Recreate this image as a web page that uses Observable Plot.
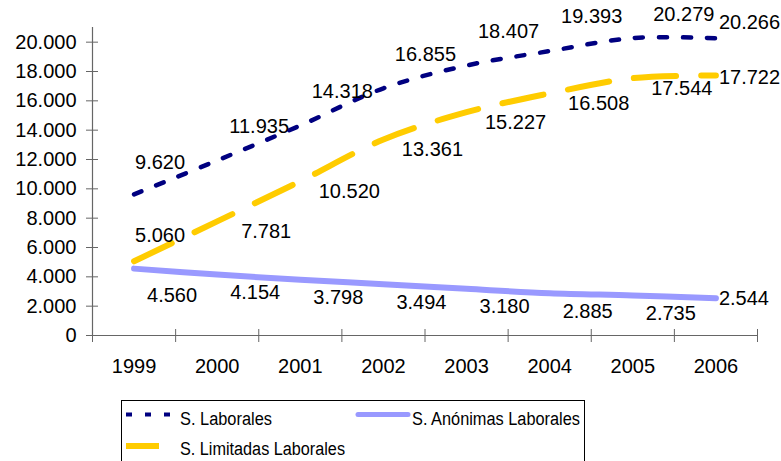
<!DOCTYPE html>
<html>
<head>
<meta charset="utf-8">
<script src="https://cdn.jsdelivr.net/npm/d3@7"></script>
<script src="https://cdn.jsdelivr.net/npm/@observablehq/plot@0.6"></script>
<style>
  html, body { margin: 0; padding: 0; background: white; }
  #chart { width: 781px; }
  #legend { display: block; }
</style>
</head>
<body>
<div id="chart"></div>
<script>
const years = [1999, 2000, 2001, 2002, 2003, 2004, 2005, 2006];
const laborales = [9620, 11935, 14318, 16855, 18407, 19393, 20279, 20266];
const limitadas = [5060, 7781, 10520, 13361, 15227, 16508, 17544, 17722];
const anonimas = [4560, 4154, 3798, 3494, 3180, 2885, 2735, 2544];
const seriesNames = ["S. Laborales", "S. Limitadas Laborales", "S. Anónimas Laborales"];
const yTicks = [0, 2000, 4000, 6000, 8000, 10000, 12000, 14000, 16000, 18000, 20000];

const locale = d3.formatLocale({decimal: ",", thousands: ".", grouping: [3], currency: ["", ""]});
const fmt = locale.format(",d");

const rows = (vals) => years.map((y, i) => ({year: y, value: vals[i], i}));
const dLab = rows(laborales), dLim = rows(limitadas), dAno = rows(anonimas);
const bounds = years.map(y => y - 0.5).concat([years[years.length - 1] + 0.5]);
const xDom = [bounds[0], bounds[bounds.length - 1]];
const lastI = years.length - 1;

const navy = "#000080", gold = "#FFCC00", lav = "#9999FF";
const font = "'Liberation Sans', Arial, sans-serif";

// Excel-like data-label placement: label nudged right of each point, above or below the line;
// the last point's label sits to the right of the point.
function labels(data, place) {
  return data.map(d => {
    const o = place(d.i);
    return Plot.text([d], {x: "year", y: "value", text: r => fmt(r.value), dx: o.dx, dy: o.dy,
      textAnchor: o.anchor || "middle", fill: "black"});
  });
}
const placeLab = i => i === 0 ? {dx: 26, dy: -32} : i === lastI ? {dx: 3, dy: -16, anchor: "start"}
  : i === lastI - 1 ? {dx: 51, dy: -23} : {dx: 42, dy: -34};
const placeLim = i => i === 0 ? {dx: 26, dy: -26} : i === lastI ? {dx: 3, dy: 2, anchor: "start"} : {dx: 49, dy: 10};
const placeAno = i => i === 0 ? {dx: 38, dy: 27} : i === lastI ? {dx: 3, dy: 0, anchor: "start"} : {dx: 38, dy: 18};

const plot = Plot.plot({
  width: 781,
  height: 395,
  marginLeft: 92,
  marginRight: 24,
  marginTop: 27,
  marginBottom: 60,
  style: {fontFamily: font, fontSize: "20px", background: "white", color: "black", overflow: "visible"},
  x: {type: "linear", domain: xDom, axis: null},
  y: {domain: [0, 21000], axis: null},
  marks: [
    Plot.ruleX([xDom[0]], {y1: 0, y2: 21000, stroke: "#666", strokeWidth: 1.2}),
    Plot.axisY({ticks: yTicks, tickSize: 12, dx: 6, tickPadding: 10, tickFormat: fmt, stroke: "#666", fill: "black", label: null}),
    Plot.ruleY([0], {x1: xDom[0], x2: xDom[1], stroke: "#666", strokeWidth: 1.2}),
    Plot.axisX({ticks: bounds, tickSize: 13, dy: -6, tickFormat: () => "", stroke: "#666", label: null}),
    Plot.axisX({ticks: years, tickSize: 0, tickPadding: 23, tickFormat: d => String(d), fill: "black", label: null}),
    Plot.line(dLab, {x: "year", y: "value", stroke: navy, strokeWidth: 4.5, strokeDasharray: "8,16", curve: "catmull-rom"}),
    Plot.line(dLim, {x: "year", y: "value", stroke: gold, strokeWidth: 6, strokeDasharray: "42,25", curve: "catmull-rom"}),
    Plot.line(dAno, {x: "year", y: "value", stroke: lav, strokeWidth: 6, strokeLinecap: "round", curve: "catmull-rom"}),
    ...labels(dLab, placeLab),
    ...labels(dLim, placeLim),
    ...labels(dAno, placeAno)
  ]
});
document.getElementById("chart").appendChild(plot);

// Legend (below the chart SVG)
const leg = d3.create("svg").attr("id", "legend").attr("width", 781).attr("height", 66)
  .style("font-family", font).style("font-size", "18px");
leg.append("rect").attr("x", 121.5).attr("y", 5.5).attr("width", 463).attr("height", 100)
  .attr("fill", "white").attr("stroke", "black").attr("stroke-width", 1);
const items = [
  {name: seriesNames[0], color: navy, w: 4, dash: "6,13", cap: "butt", x1: 126, x2: 170, y: 19.5, tx: 180, ty: 30, len: 92},
  {name: seriesNames[2], color: lav, w: 5, dash: null, cap: "round", x1: 358, x2: 408, y: 19.5, tx: 412, ty: 30, len: 168},
  {name: seriesNames[1], color: gold, w: 6, dash: null, cap: "butt", x1: 126, x2: 159, y: 51, tx: 180, ty: 60, len: 165}
];
for (const it of items) {
  const l = leg.append("line").attr("x1", it.x1).attr("x2", it.x2).attr("y1", it.y).attr("y2", it.y)
    .attr("stroke", it.color).attr("stroke-width", it.w).attr("stroke-linecap", it.cap);
  if (it.dash) l.attr("stroke-dasharray", it.dash);
  leg.append("text").attr("x", it.tx).attr("y", it.ty).attr("fill", "black")
    .attr("textLength", it.len).attr("lengthAdjust", "spacingAndGlyphs").text(it.name);
}
document.getElementById("chart").appendChild(leg.node());
</script>
</body>
</html>
